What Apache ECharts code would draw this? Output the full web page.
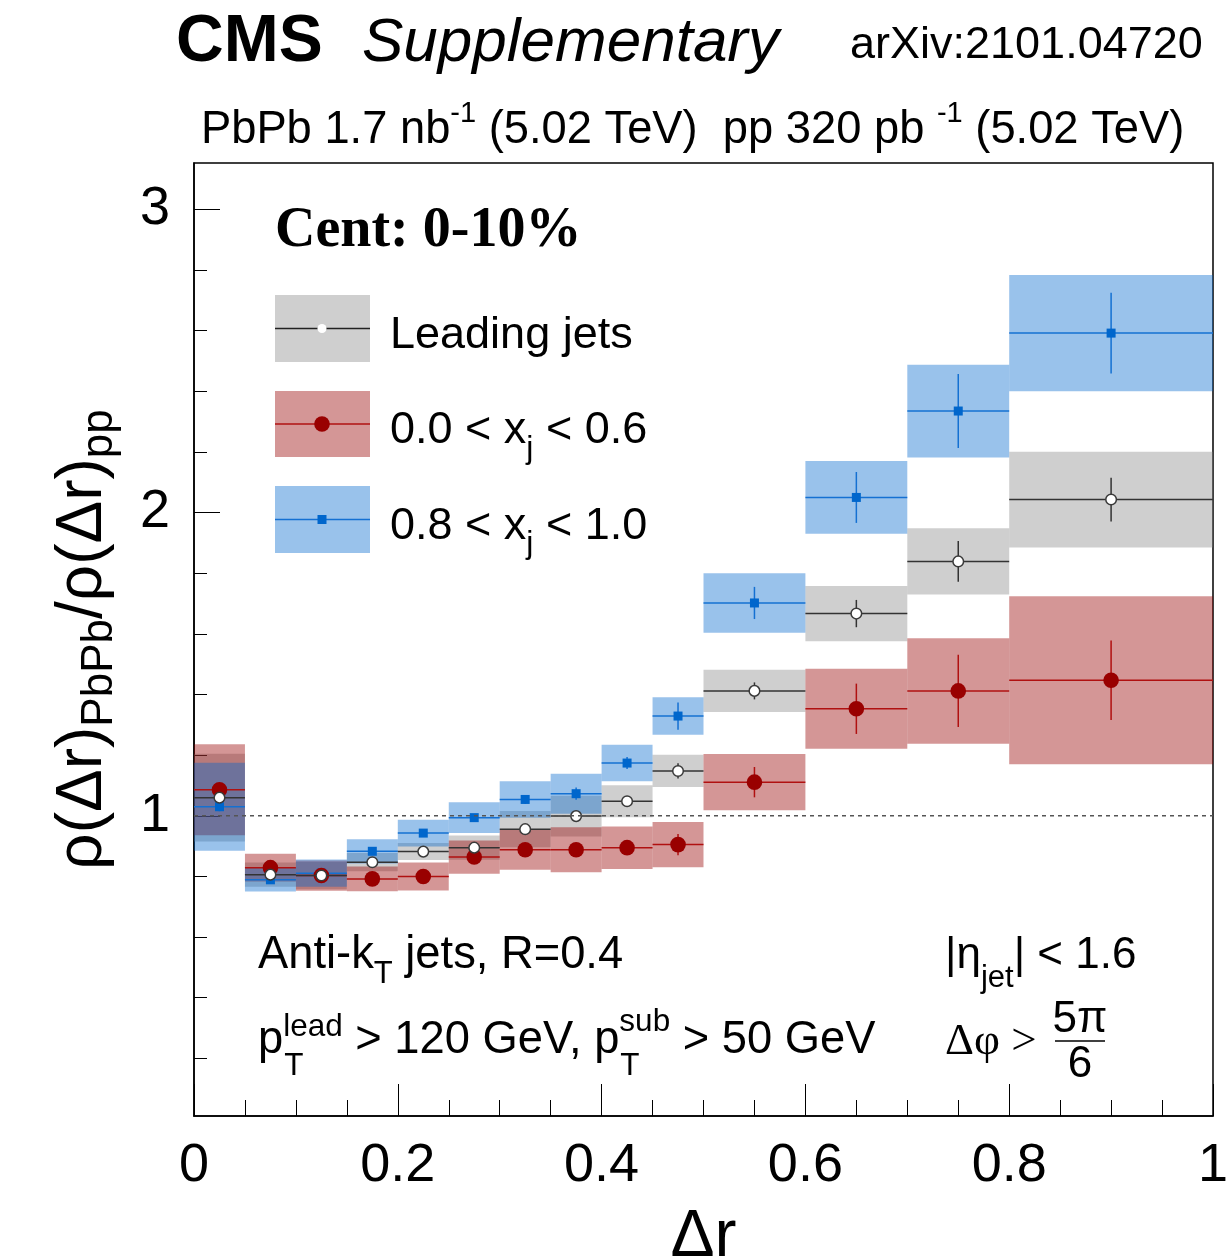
<!DOCTYPE html>
<html>
<head>
<meta charset="utf-8">
<title>Jet shape ratio PbPb / pp</title>
<script src="https://cdn.jsdelivr.net/npm/echarts@6/dist/echarts.min.js"></script>
<style>
  html, body { margin: 0; padding: 0; background: #ffffff; }
  #chart { width: 1230px; height: 1260px; }
</style>
</head>
<body>
<div id="chart"></div>
<script>
// Δr bin edges
const binLow  = [0.00, 0.05, 0.10, 0.15, 0.20, 0.25, 0.30, 0.35, 0.40, 0.45, 0.50, 0.60, 0.70, 0.80];
const binHigh = [0.05, 0.10, 0.15, 0.20, 0.25, 0.30, 0.35, 0.40, 0.45, 0.50, 0.60, 0.70, 0.80, 1.00];

// Leading jets: ratio, statistical and systematic uncertainty
const leadVal  = [1.060, 0.806, 0.803, 0.847, 0.882, 0.895, 0.956, 0.999, 1.048, 1.148, 1.412, 1.667, 1.839, 2.043];
const leadStat = [0.010, 0.008, 0.008, 0.008, 0.008, 0.008, 0.010, 0.010, 0.012, 0.025, 0.028, 0.045, 0.067, 0.072];
const leadSyst = [0.145, 0.040, 0.045, 0.030, 0.028, 0.040, 0.060, 0.067, 0.053, 0.053, 0.070, 0.091, 0.109, 0.158];

// 0.0 < xj < 0.6
const lowXjVal  = [1.086, 0.829, 0.803, 0.792, 0.800, 0.864, 0.888, 0.888, 0.895, 0.905, 1.111, 1.353, 1.412, 1.447];
const lowXjStat = [0.015, 0.012, 0.012, 0.012, 0.012, 0.012, 0.015, 0.015, 0.020, 0.035, 0.050, 0.083, 0.119, 0.131];
const lowXjSyst = [0.150, 0.046, 0.050, 0.041, 0.046, 0.055, 0.066, 0.074, 0.070, 0.075, 0.093, 0.132, 0.174, 0.277];

// 0.8 < xj < 1.0
const highXjVal  = [1.030, 0.789, 0.811, 0.883, 0.943, 0.994, 1.054, 1.073, 1.174, 1.329, 1.702, 2.050, 2.335, 2.592];
const highXjStat = [0.015, 0.010, 0.010, 0.012, 0.012, 0.012, 0.015, 0.020, 0.020, 0.045, 0.053, 0.084, 0.122, 0.133];
const highXjSyst = [0.145, 0.039, 0.045, 0.040, 0.044, 0.051, 0.060, 0.066, 0.060, 0.062, 0.098, 0.120, 0.153, 0.192];

// axis ticks
const yMajorTicks = [1, 2, 3];
const yMinorTicks = [0.2, 0.4, 0.6, 0.8, 1.2, 1.4, 1.6, 1.8, 2.2, 2.4, 2.6, 2.8];
const unityLine = [[0, 1], [1, 1]];

const SANS = '"Liberation Sans", Arial, Helvetica, sans-serif';
const SERIF = '"Liberation Serif", "Times New Roman", serif';

const COL = {
  leadBox: 'rgba(128,128,128,0.38)',
  lowBox:  'rgba(150,0,0,0.41)',
  highBox: 'rgba(0,102,204,0.40)',
  leadLine: '#333333',
  lowLine: '#b01010',
  highLine: '#1470d2',
  lowMarker: '#990000',
  highMarker: '#0066cc'
};

function rows(vals, errs) {
  return vals.map((v, i) => [binLow[i], binHigh[i], v, errs[i]]);
}

function boxRenderer(fill) {
  return function (params, api) {
    const x0 = api.value(0), x1 = api.value(1), y = api.value(2), h = api.value(3);
    const a = api.coord([x0, y + h]);
    const b = api.coord([x1, y - h]);
    return {
      type: 'rect',
      shape: { x: a[0], y: a[1], width: b[0] - a[0], height: b[1] - a[1] },
      style: { fill: fill }
    };
  };
}

function markerShape(kind, cx, cy) {
  if (kind === 'open') {
    return { type: 'circle', shape: { cx: cx, cy: cy, r: 5.3 }, style: { fill: '#ffffff', stroke: '#3a3a3a', lineWidth: 1.5 } };
  }
  if (kind === 'dot') {
    return { type: 'circle', shape: { cx: cx, cy: cy, r: 7.8 }, style: { fill: COL.lowMarker } };
  }
  return { type: 'rect', shape: { x: cx - 4.5, y: cy - 4.5, width: 9, height: 9 }, style: { fill: COL.highMarker } };
}

function pointRenderer(lineColor, kind) {
  return function (params, api) {
    const x0 = api.value(0), x1 = api.value(1), y = api.value(2), e = api.value(3);
    const xc = (x0 + x1) / 2;
    const l = api.coord([x0, y]), r = api.coord([x1, y]);
    const t = api.coord([xc, y + e]), b = api.coord([xc, y - e]);
    const c = api.coord([xc, y]);
    return {
      type: 'group',
      children: [
        { type: 'line', shape: { x1: l[0], y1: l[1], x2: r[0], y2: r[1] }, style: { stroke: lineColor, lineWidth: 1.5 } },
        { type: 'line', shape: { x1: t[0], y1: t[1], x2: b[0], y2: b[1] }, style: { stroke: lineColor, lineWidth: 1.5 } },
        markerShape(kind, c[0], c[1])
      ]
    };
  };
}

function boxSeries(name, vals, syst, fill) {
  return {
    name: name, type: 'custom', z: 2,
    renderItem: boxRenderer(fill),
    encode: { x: [0, 1], y: 2 },
    data: rows(vals, syst),
    silent: true
  };
}
function pointSeries(name, vals, stat, lineColor, kind) {
  return {
    name: name, type: 'custom', z: 3,
    renderItem: pointRenderer(lineColor, kind),
    encode: { x: [0, 1], y: 2 },
    data: rows(vals, stat),
    silent: true
  };
}

// text measuring for inline layout of annotation pieces
const measureCtx = document.createElement('canvas').getContext('2d');
function tw(text, size, family, weight) {
  measureCtx.font = (weight || 'normal') + ' ' + size + 'px ' + (family || SANS);
  return measureCtx.measureText(text).width;
}

function txt(x, y, text, size, opts) {
  opts = opts || {};
  return {
    type: 'text', z: 20,
    style: {
      x: x, y: y, text: text,
      fontSize: size,
      fontFamily: opts.family || SANS,
      fontWeight: opts.weight || 'normal',
      fontStyle: opts.style || 'normal',
      fill: '#000000',
      align: opts.align || 'left', textAlign: opts.align || 'left',
      verticalAlign: 'middle', textVerticalAlign: 'middle',
      rich: opts.rich
    }
  };
}

const graphics = [];

// header
graphics.push(txt(176, 43, 'CMS', 66, { weight: 'bold' }));
graphics.push(txt(362, 44, 'Supplementary', 62, { style: 'italic' }));
graphics.push(txt(850, 46, 'arXiv:2101.04720', 45));
graphics.push(txt(201, 131, 'PbPb 1.7 nb{sup|-1} (5.02 TeV)  pp 320 pb {sup|-1} (5.02 TeV)', 45.3, {
  rich: { sup: { fontSize: 29, fontFamily: SANS, fill: '#000', padding: [0, 0, 34, 0] } }
}));

// centrality label
graphics.push(txt(275, 232, 'Cent: 0-10%', 56, { family: SERIF, weight: 'bold' }));

// legend
const legendRows = [
  { y: 295, h: 67, fill: COL.leadBox, line: '#222222', kind: 'legendOpen', label: 'Leading jets' },
  { y: 391, h: 66, fill: COL.lowBox, line: COL.lowLine, kind: 'dot', label: '0.0 < x{sub|j} < 0.6' },
  { y: 486, h: 67, fill: COL.highBox, line: COL.highLine, kind: 'square', label: '0.8 < x{sub|j} < 1.0' }
];
legendRows.forEach(function (row) {
  const cy = row.y + row.h / 2;
  graphics.push({ type: 'rect', z: 15, shape: { x: 275, y: row.y, width: 95, height: row.h }, style: { fill: row.fill } });
  graphics.push({ type: 'line', z: 16, shape: { x1: 275, y1: cy, x2: 370, y2: cy }, style: { stroke: row.line, lineWidth: 1.5 } });
  if (row.kind === 'legendOpen') {
    graphics.push({ type: 'circle', z: 17, shape: { cx: 322, cy: cy, r: 4.5 }, style: { fill: '#ffffff' } });
  } else {
    const m = markerShape(row.kind, 322, cy);
    m.z = 17;
    graphics.push(m);
  }
  graphics.push(txt(390, cy + 7, row.label, 45, {
    rich: { sub: { fontSize: 32, fontFamily: SANS, fill: '#000', padding: [36, 0, 0, 0] } }
  }));
});

// jet selection text (bottom left)
graphics.push(txt(258, 956, 'Anti-k{sub|T} jets, R=0.4', 45.3, {
  rich: { sub: { fontSize: 31, fontFamily: SANS, fill: '#000', padding: [36, 0, 0, 0] } }
}));
(function () {
  let x = 258;
  const y = 1041, f = 45.3, fs = 31.5;
  graphics.push(txt(x, y, 'p', f));
  x += tw('p', f);
  graphics.push(txt(x, 1027, 'lead', fs));
  graphics.push(txt(x + 1, 1066, 'T', fs));
  x += tw('lead', fs);
  const mid = ' > 120 GeV, p';
  graphics.push(txt(x, y, mid, f));
  x += tw(mid, f);
  graphics.push(txt(x, 1022, 'sub', fs));
  graphics.push(txt(x + 1, 1066, 'T', fs));
  x += tw('sub', fs);
  graphics.push(txt(x, y, ' > 50 GeV', f));
})();

// kinematic cuts (bottom right)
graphics.push(txt(945, 956, '|η{sub|jet}| < 1.6', 44, {
  rich: { sub: { fontSize: 31, fontFamily: SANS, fill: '#000', padding: [44, 0, 0, 0] } }
}));
graphics.push(txt(945, 1042, 'Δφ >', 45, { family: SERIF }));
graphics.push(txt(1080, 1020, '5π', 44, { align: 'center' }));
graphics.push({ type: 'line', z: 20, shape: { x1: 1055, y1: 1041, x2: 1105, y2: 1041 }, style: { stroke: '#000', lineWidth: 1.5 } });
graphics.push(txt(1080, 1065, '6', 44, { align: 'center' }));

const option = {
  backgroundColor: '#ffffff',
  animation: false,
  grid: {
    left: 194, top: 163, width: 1019, height: 953,
    outerBoundsMode: 'none', containLabel: false,
    show: true, borderColor: '#000000', borderWidth: 1.5, backgroundColor: 'transparent'
  },
  xAxis: {
    type: 'value', min: 0, max: 1, interval: 0.2,
    axisLine: { show: true, lineStyle: { color: '#000', width: 1.5 } },
    axisTick: { show: true, inside: true, length: 32, lineStyle: { color: '#000', width: 1 } },
    minorTick: { show: true, splitNumber: 4, length: 16, lineStyle: { color: '#000', width: 1 } },
    splitLine: { show: false },
    minorSplitLine: { show: false },
    axisLabel: { fontSize: 54, fontFamily: SANS, color: '#000', margin: 23, formatter: function (v) { return String(+v.toFixed(2)); } },
    name: 'Δr', nameLocation: 'middle', nameGap: 89,
    nameTextStyle: { fontSize: 66, fontFamily: SANS, color: '#000' }
  },
  yAxis: [
    {
      type: 'value', min: 0.01, max: 3.153,
      axisLine: { show: true, lineStyle: { color: '#000', width: 1.5 } },
      axisTick: { show: true, inside: true, length: 26, customValues: yMajorTicks, lineStyle: { color: '#000', width: 1 } },
      splitLine: { show: false },
      axisLabel: { customValues: yMajorTicks, fontSize: 54, fontFamily: SANS, color: '#000', margin: 24 },
      name: '{m|ρ(Δr)}{s|PbPb}{m|/ρ(Δr)}{s|pp}',
      nameLocation: 'middle', nameRotate: 90, nameGap: 72,
      nameTextStyle: {
        color: '#000',
        rich: {
          m: { fontSize: 64, fontFamily: SANS, color: '#000' },
          s: { fontSize: 44, fontFamily: SANS, color: '#000', padding: [34, 0, 0, 0] }
        }
      }
    },
    {
      type: 'value', min: 0.01, max: 3.153, position: 'left',
      axisLine: { show: false },
      axisTick: { show: true, inside: true, length: 13, customValues: yMinorTicks, lineStyle: { color: '#000', width: 1 } },
      axisLabel: { show: false },
      splitLine: { show: false }
    }
  ],
  series: [
    boxSeries('Leading jets syst', leadVal, leadSyst, COL.leadBox),
    boxSeries('0.0 < xj < 0.6 syst', lowXjVal, lowXjSyst, COL.lowBox),
    boxSeries('0.8 < xj < 1.0 syst', highXjVal, highXjSyst, COL.highBox),
    pointSeries('0.8 < xj < 1.0', highXjVal, highXjStat, COL.highLine, 'square'),
    pointSeries('0.0 < xj < 0.6', lowXjVal, lowXjStat, COL.lowLine, 'dot'),
    pointSeries('Leading jets', leadVal, leadStat, COL.leadLine, 'open'),
    {
      name: 'unity', type: 'line', z: 5, data: unityLine,
      symbol: 'none', silent: true,
      lineStyle: { color: '#555555', width: 1.5, type: [4, 4] }
    }
  ],
  graphic: { elements: graphics }
};

const chart = echarts.init(document.getElementById('chart'), null, { renderer: 'canvas' });
chart.setOption(option);
</script>
</body>
</html>
